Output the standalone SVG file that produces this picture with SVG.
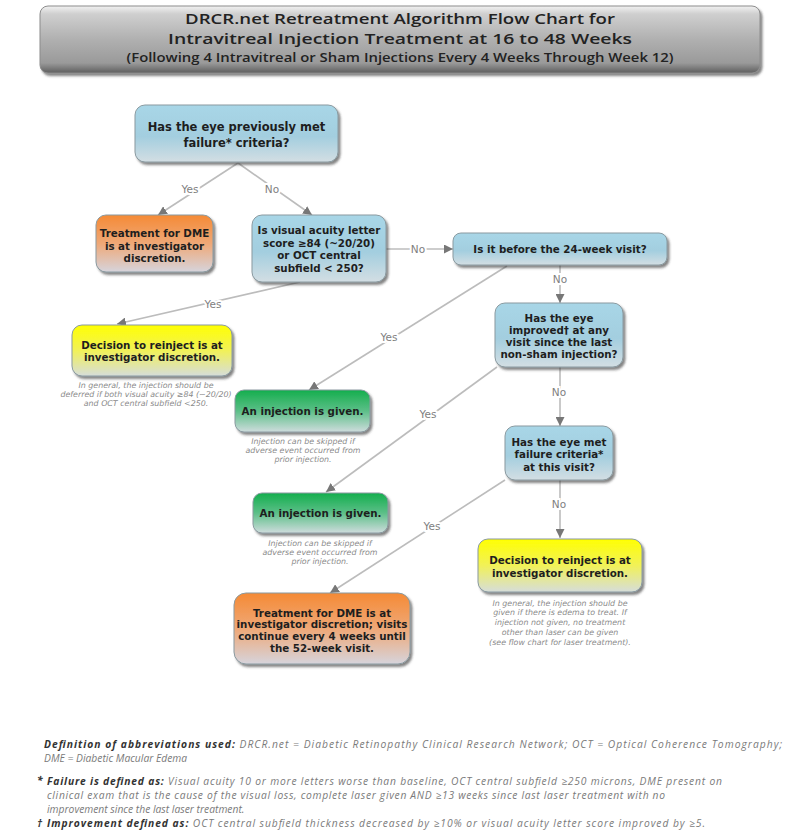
<svg xmlns="http://www.w3.org/2000/svg" width="800" height="831" viewBox="0 0 800 831">
<defs>
<style>
.nt{font-family:"DejaVu Sans",Verdana,sans-serif;font-weight:bold;font-size:10.3px;fill:#1e1e1e;text-anchor:middle}
.big{font-size:11.5px}
.note{font-family:"DejaVu Sans",Verdana,sans-serif;font-style:italic;font-size:7.9px;fill:#8a8a8a;text-anchor:middle}
.lbl{font-family:"DejaVu Sans",Verdana,sans-serif;font-size:10.5px;fill:#808080;text-anchor:middle;stroke:#fff;stroke-width:4px;paint-order:stroke}
.edge{stroke:#bcbcbc;stroke-width:1.6;fill:none;marker-end:url(#ah)}
.box{stroke:#8a9aa0;stroke-width:1;filter:url(#sh)}
.title{font-family:"Open Sans","DejaVu Sans",sans-serif;font-weight:600;fill:#222;text-anchor:middle}
.ft{font-family:"Open Sans","DejaVu Sans",sans-serif;font-style:italic;font-size:10.3px;fill:#7a7a7a}
.fb{font-weight:bold;fill:#333}
</style>
<filter id="sh" x="-10%" y="-10%" width="125%" height="135%">
<feDropShadow dx="2" dy="2.5" stdDeviation="1.2" flood-color="#333" flood-opacity="0.6"/>
</filter>
<linearGradient id="gBlue" x1="0" y1="0" x2="0" y2="1">
<stop offset="0" stop-color="#a8d6e7"/><stop offset="0.55" stop-color="#a3cedf"/><stop offset="1" stop-color="#d3dee3"/>
</linearGradient>
<linearGradient id="gOrange" x1="0" y1="0" x2="0" y2="1">
<stop offset="0" stop-color="#f58a35"/><stop offset="0.5" stop-color="#efa877"/><stop offset="1" stop-color="#d6d4dc"/>
</linearGradient>
<linearGradient id="gYellow" x1="0" y1="0" x2="0" y2="1">
<stop offset="0" stop-color="#ffff00"/><stop offset="0.5" stop-color="#f1f158"/><stop offset="1" stop-color="#d6ddda"/>
</linearGradient>
<linearGradient id="gGreen" x1="0" y1="0" x2="0" y2="1">
<stop offset="0" stop-color="#14ae4d"/><stop offset="0.5" stop-color="#5cbf88"/><stop offset="1" stop-color="#cfdcdd"/>
</linearGradient>
<linearGradient id="gTitle" x1="0" y1="0" x2="0" y2="1">
<stop offset="0" stop-color="#f2f2f2"/><stop offset="0.12" stop-color="#cfcfcf"/><stop offset="0.5" stop-color="#b0b0b0"/><stop offset="0.85" stop-color="#9a9a9a"/><stop offset="1" stop-color="#5e5e5e"/>
</linearGradient>
<marker id="ah" viewBox="0 0 10 10" refX="10" refY="5" markerWidth="9" markerHeight="9" markerUnits="userSpaceOnUse" orient="auto">
<path d="M0,0 L10,5 L0,10 z" fill="#777"/>
</marker>
</defs>
<rect width="800" height="831" fill="#fff"/>

<g id="title">
<rect x="40" y="6" width="720" height="67" rx="8" fill="url(#gTitle)" stroke="#8c8c8c" stroke-width="1" filter="url(#sh)"/>
<text class="title" x="400" y="24" font-size="15" textLength="430" lengthAdjust="spacingAndGlyphs">DRCR.net Retreatment Algorithm Flow Chart for</text>
<text class="title" x="400" y="44" font-size="15" textLength="464" lengthAdjust="spacingAndGlyphs">Intravitreal Injection Treatment at 16 to 48 Weeks</text>
<text class="title" x="400" y="62" font-size="12.5" textLength="547" lengthAdjust="spacingAndGlyphs">(Following 4 Intravitreal or Sham Injections Every 4 Weeks Through Week 12)</text>
</g>

<g id="connectors">
<line class="edge" x1="238" y1="163" x2="158" y2="215"/>
<line class="edge" x1="238" y1="163" x2="312" y2="215"/>
<line class="edge" x1="386" y1="249" x2="453" y2="249"/>
<line class="edge" x1="300" y1="282" x2="117" y2="324"/>
<line class="edge" x1="507" y1="266" x2="309" y2="390"/>
<line class="edge" x1="560" y1="265" x2="560" y2="303"/>
<line class="edge" x1="497" y1="367" x2="326" y2="492"/>
<line class="edge" x1="560" y1="367" x2="560" y2="426"/>
<line class="edge" x1="505" y1="480" x2="330" y2="593"/>
<line class="edge" x1="560" y1="480" x2="560" y2="538"/>
<text class="lbl" x="190" y="193">Yes</text>
<text class="lbl" x="272" y="193">No</text>
<text class="lbl" x="418" y="253">No</text>
<text class="lbl" x="213" y="308">Yes</text>
<text class="lbl" x="389" y="341">Yes</text>
<text class="lbl" x="560" y="283">No</text>
<text class="lbl" x="428" y="418">Yes</text>
<text class="lbl" x="559" y="396">No</text>
<text class="lbl" x="432" y="530">Yes</text>
<text class="lbl" x="559" y="508">No</text>
</g>

<g id="n1">
<rect class="box" x="135" y="105" width="203" height="57" rx="10" fill="url(#gBlue)"/>
<text class="nt big" x="236.5" y="131">Has the eye previously met</text>
<text class="nt big" x="236.5" y="147">failure* criteria?</text>
</g>

<g id="n2">
<rect class="box" x="96" y="215" width="117" height="57" rx="10" fill="url(#gOrange)"/>
<text class="nt" x="154.5" y="237">Treatment for DME</text>
<text class="nt" x="154.5" y="250">is at investigator</text>
<text class="nt" x="154.5" y="262">discretion.</text>
</g>

<g id="n3">
<rect class="box" x="252" y="215" width="134" height="67" rx="10" fill="url(#gBlue)"/>
<text class="nt" x="319" y="234">Is visual acuity letter</text>
<text class="nt" x="319" y="247">score ≥84 (~20/20)</text>
<text class="nt" x="319" y="259">or OCT central</text>
<text class="nt" x="319" y="272">subfield &lt; 250?</text>
</g>

<g id="n4">
<rect class="box" x="453" y="233" width="214" height="32" rx="8" fill="url(#gBlue)"/>
<text class="nt" x="560" y="253">Is it before the 24-week visit?</text>
</g>

<g id="n5">
<rect class="box" x="72" y="325" width="160" height="51" rx="10" fill="url(#gYellow)"/>
<text class="nt" x="152" y="349">Decision to reinject is at</text>
<text class="nt" x="152" y="361">investigator discretion.</text>
<text class="note" x="146" y="388">In general, the injection should be</text>
<text class="note" x="146" y="397">deferred if both visual acuity ≥84 (~20/20)</text>
<text class="note" x="146" y="406">and OCT central subfield &lt;250.</text>
</g>

<g id="n6">
<rect class="box" x="495" y="303" width="128" height="64" rx="10" fill="url(#gBlue)"/>
<text class="nt" x="559" y="322">Has the eye</text>
<text class="nt" x="559" y="334">improved† at any</text>
<text class="nt" x="559" y="346">visit since the last</text>
<text class="nt" x="559" y="358">non-sham injection?</text>
</g>

<g id="n7">
<rect class="box" x="235" y="390" width="135" height="42" rx="9" fill="url(#gGreen)"/>
<text class="nt" x="302.5" y="415">An injection is given.</text>
<text class="note" x="303" y="444">Injection can be skipped if</text>
<text class="note" x="303" y="453">adverse event occurred from</text>
<text class="note" x="303" y="462">prior injection.</text>
</g>

<g id="n8">
<rect class="box" x="505" y="426" width="108" height="54" rx="10" fill="url(#gBlue)"/>
<text class="nt" x="559" y="446">Has the eye met</text>
<text class="nt" x="559" y="458">failure criteria*</text>
<text class="nt" x="559" y="471">at this visit?</text>
</g>

<g id="n9">
<rect class="box" x="253" y="493" width="135" height="40" rx="9" fill="url(#gGreen)"/>
<text class="nt" x="320.5" y="517">An injection is given.</text>
<text class="note" x="320" y="546">Injection can be skipped if</text>
<text class="note" x="320" y="555">adverse event occurred from</text>
<text class="note" x="320" y="564">prior injection.</text>
</g>

<g id="n10">
<rect class="box" x="478" y="539" width="164" height="53" rx="10" fill="url(#gYellow)"/>
<text class="nt" x="560" y="564">Decision to reinject is at</text>
<text class="nt" x="560" y="577">investigator discretion.</text>
<text class="note" x="560" y="606">In general, the injection should be</text>
<text class="note" x="560" y="615">given if there is edema to treat. If</text>
<text class="note" x="560" y="625">injection not given, no treatment</text>
<text class="note" x="560" y="635">other than laser can be given</text>
<text class="note" x="560" y="645">(see flow chart for laser treatment).</text>
</g>

<g id="n11">
<rect class="box" x="234" y="593" width="176" height="71" rx="12" fill="url(#gOrange)"/>
<text class="nt" x="322" y="617">Treatment for DME is at</text>
<text class="nt" x="322" y="628">investigator discretion; visits</text>
<text class="nt" x="322" y="640">continue every 4 weeks until</text>
<text class="nt" x="322" y="652">the 52-week visit.</text>
</g>

<g id="footer">
<text class="ft" x="44" y="748" textLength="738"><tspan class="fb">Definition of abbreviations used:</tspan> DRCR.net = Diabetic Retinopathy Clinical Research Network; OCT = Optical Coherence Tomography;</text>
<text class="ft" x="44" y="762">DME = Diabetic Macular Edema</text>
<text class="ft fb" x="37" y="784">*</text>
<text class="ft" x="47" y="785" textLength="675"><tspan class="fb">Failure is defined as:</tspan> Visual acuity 10 or more letters worse than baseline, OCT central subfield ≥250 microns, DME present on</text>
<text class="ft" x="47" y="799" textLength="618">clinical exam that is the cause of the visual loss, complete laser given AND ≥13 weeks since last laser treatment with no</text>
<text class="ft" x="47" y="813">improvement since the last laser treatment.</text>
<text class="ft fb" x="37" y="827">†</text>
<text class="ft" x="47" y="827" textLength="658"><tspan class="fb">Improvement defined as:</tspan> OCT central subfield thickness decreased by ≥10% or visual acuity letter score improved by ≥5.</text>
</g>
</svg>
